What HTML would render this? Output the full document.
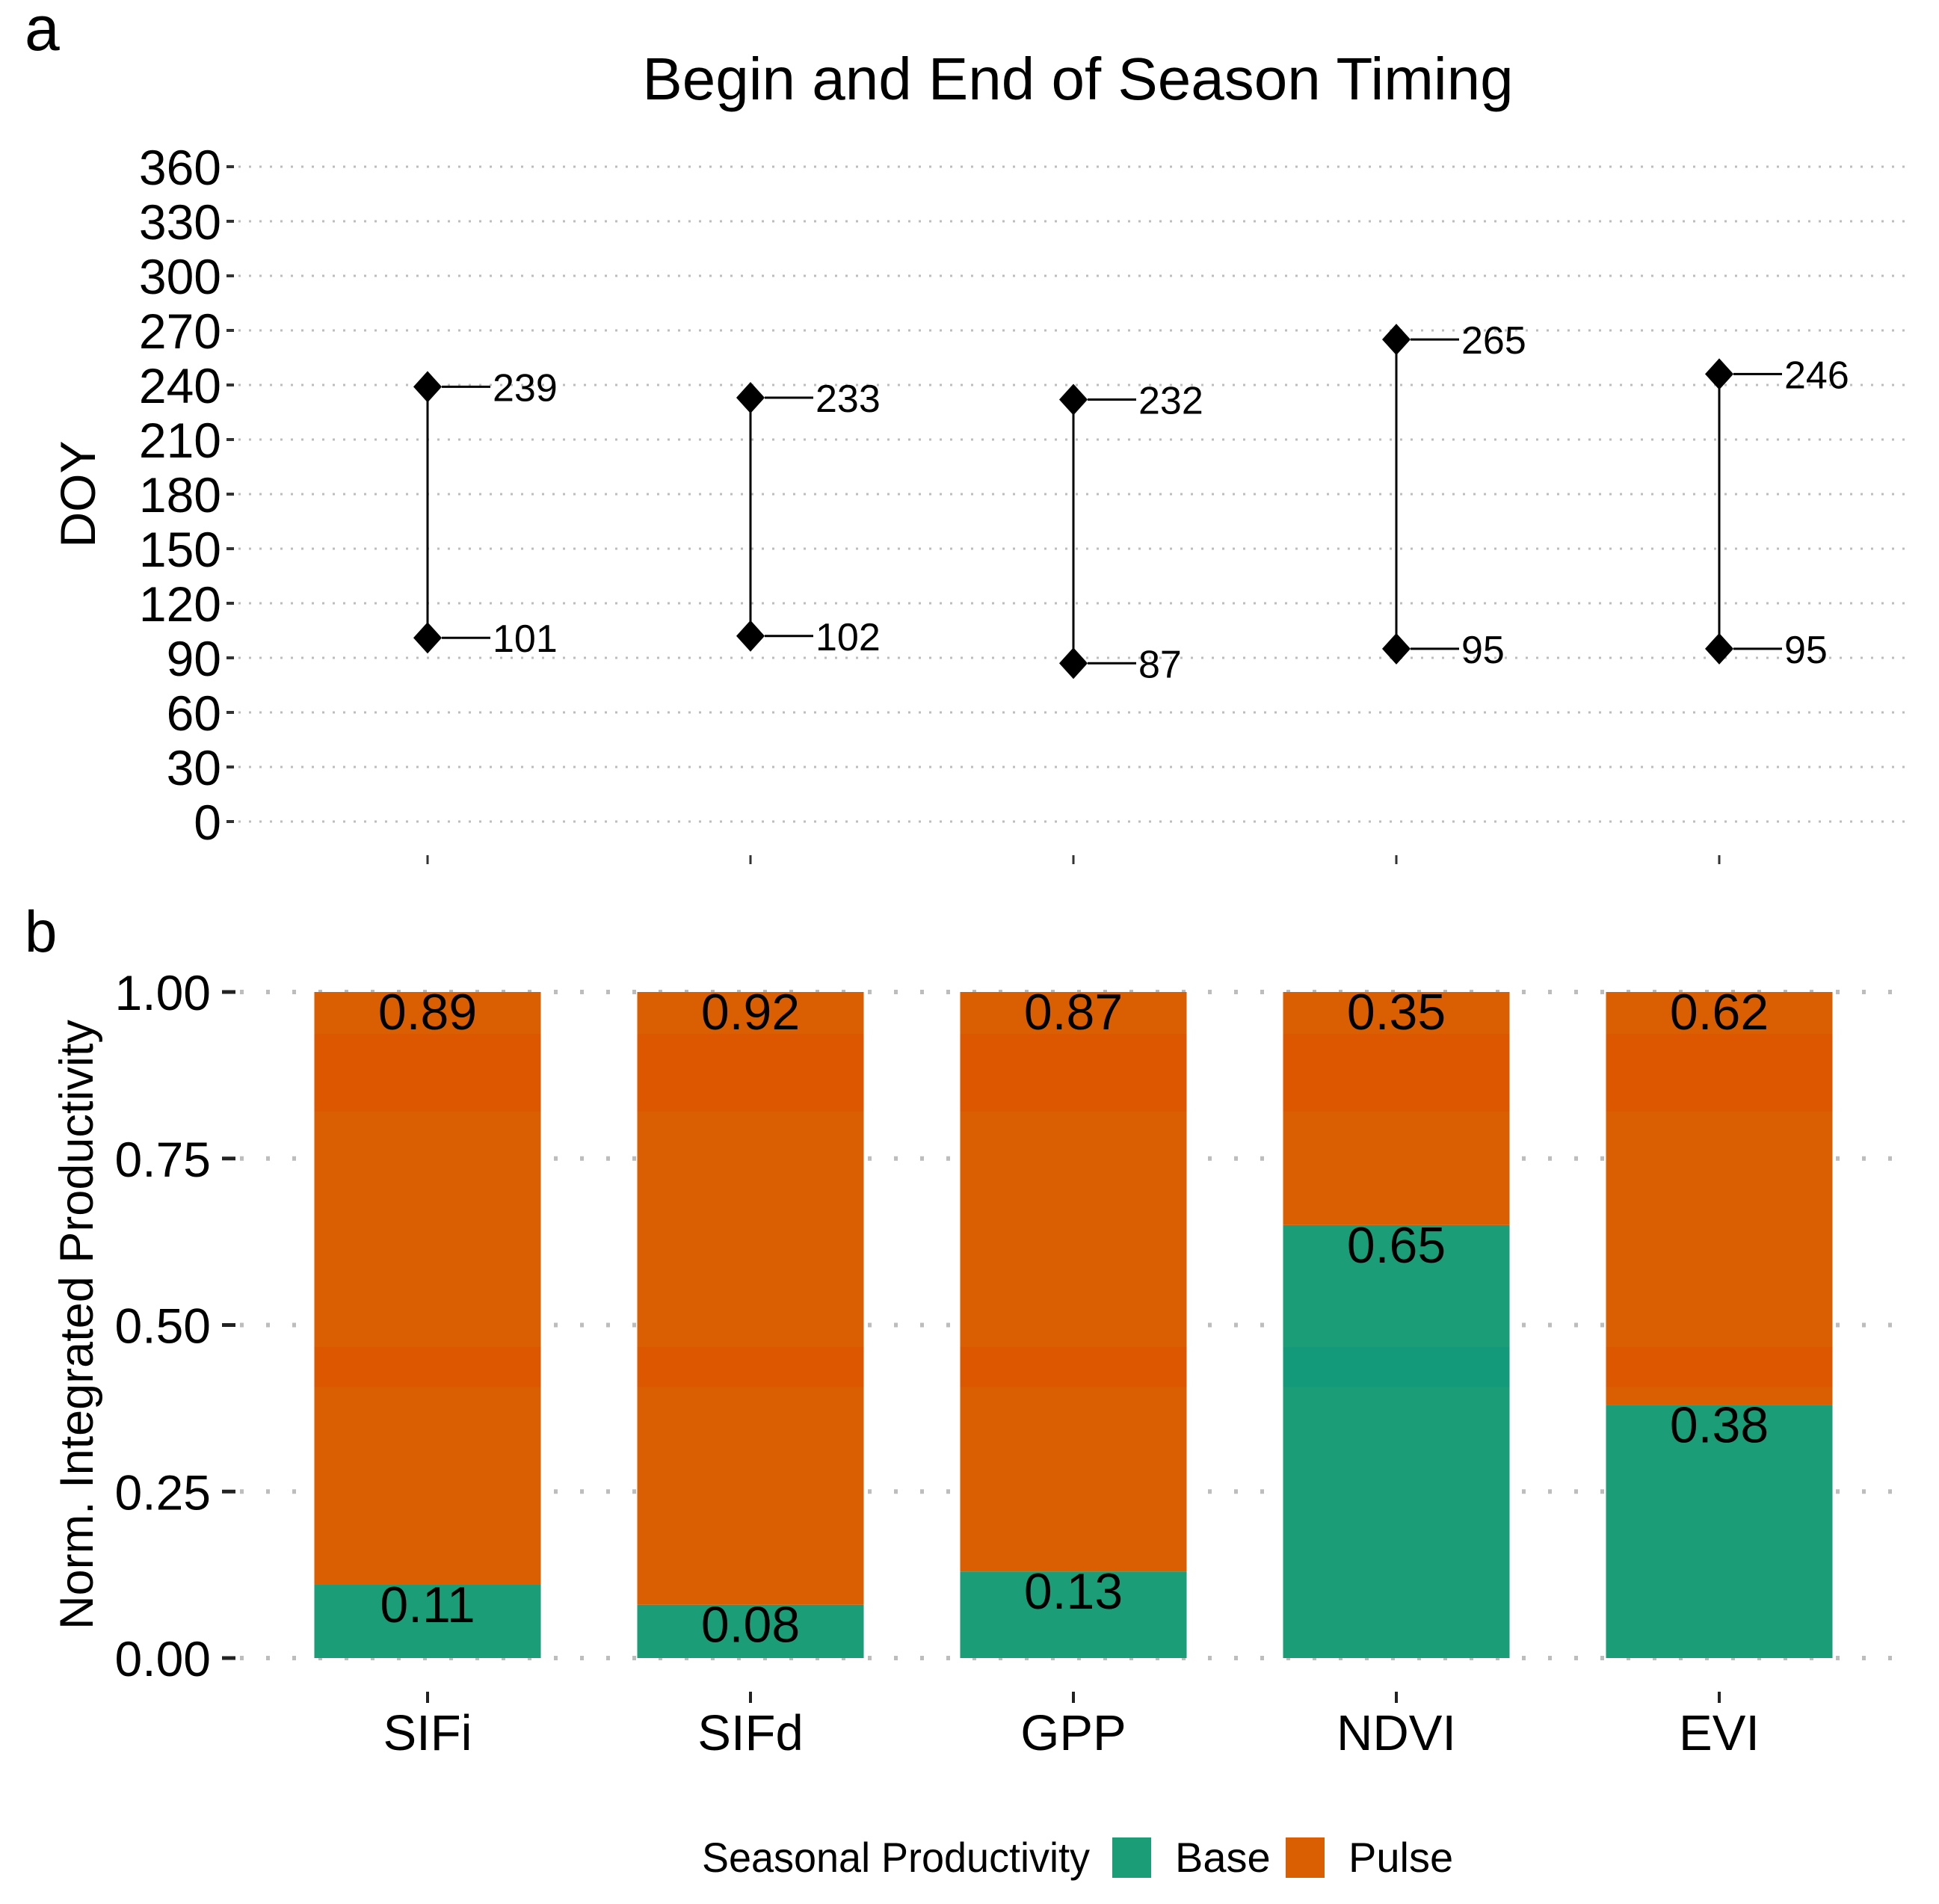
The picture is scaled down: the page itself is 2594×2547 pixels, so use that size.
<!DOCTYPE html>
<html><head><meta charset="utf-8"><style>html,body{margin:0;padding:0;background:#fff}svg{display:block}text{font-family:"Liberation Sans",Arial,sans-serif;fill:#000}</style></head>
<body>
<svg id="chart" width="2594" height="2547" viewBox="0 0 2594 2547" xmlns="http://www.w3.org/2000/svg">
<g id="pa"></g>
<g id="pb"></g>
</svg>
<script>
const categories = ["SIFi","SIFd","GPP","NDVI","EVI"];
const seasonBegin = [101,102,87,95,95];
const seasonEnd = [239,233,232,265,246];
const doyTicks = [0,30,60,90,120,150,180,210,240,270,300,330,360];
const baseShare = [0.11,0.08,0.13,0.65,0.38];
const pulseShare = [0.89,0.92,0.87,0.35,0.62];
const propTicks = [0,0.25,0.5,0.75,1.0];
const propTickLabels = ["0.00","0.25","0.50","0.75","1.00"];

const NS="http://www.w3.org/2000/svg";
function mk(parent,tag,attrs,txt){const e=document.createElementNS(NS,tag);for(const k in attrs)e.setAttribute(k,attrs[k]);if(txt!==undefined)e.textContent=txt;parent.appendChild(e);return e;}
const xCat = i => 572 + i*432;
const yA = v => 1099 - v*(876/360);
const yB = v => 2218 - v*891;

const pa=document.getElementById('pa');
const pb=document.getElementById('pb');

// Panel a
let t=mk(pa,'text',{x:33,y:67,'font-size':84},'a');


t=mk(pa,'text',{x:1442,y:133,'font-size':80,'text-anchor':'middle'},'Begin and End of Season Timing');


t=mk(pa,'text',{x:0,y:0,'font-size':66,'text-anchor':'middle',transform:'translate(127,661) rotate(-90)'},'DOY');


doyTicks.forEach(v=>{
  const y=yA(v);
  const g=mk(pa,'line',{x1:319,x2:2555,y1:y,y2:y,stroke:'#bdbdbd','stroke-width':3,'stroke-dasharray':'3,11'});
  
  
  const tk=mk(pa,'line',{x1:303,x2:313,y1:y,y2:y,stroke:'#333','stroke-width':4});
  
  
  const l=mk(pa,'text',{x:296,y:y+24,'font-size':66,'text-anchor':'end'},String(v));
  
  
});
categories.forEach((c,i)=>{
  const x=xCat(i);
  const tk=mk(pa,'line',{x1:x,x2:x,y1:1144,y2:1156,stroke:'#333','stroke-width':3});
  
  
  const yb=yA(seasonBegin[i]), ye=yA(seasonEnd[i]);
  const ln=mk(pa,'line',{x1:x,x2:x,y1:yb,y2:ye,stroke:'#000','stroke-width':3});
  
  
  [[seasonBegin[i],'begin'],[seasonEnd[i],'end']].forEach(([v,k])=>{
    const y=yA(v);
    const d=mk(pa,'polygon',{points:`${x},${y-21} ${x+19},${y} ${x},${y+21} ${x-19},${y}`,fill:'#000'});
    
    
    const seg=mk(pa,'line',{x1:x+19,x2:x+84,y1:y,y2:y,stroke:'#000','stroke-width':3});
    
    
    const lab=mk(pa,'text',{x:x+87,y:y+19,'font-size':52},String(v));
    
    
  });
});

// Panel b
t=mk(pb,'text',{x:33,y:1273,'font-size':78},'b');


t=mk(pb,'text',{x:0,y:0,'font-size':63,'text-anchor':'middle',transform:'translate(124,1772) rotate(-90)'},'Norm. Integrated Productivity');


propTicks.forEach((v,j)=>{
  const y=yB(v);
  const g=mk(pb,'line',{x1:321,x2:2555,y1:y,y2:y,stroke:'#bdbdbd','stroke-width':6,'stroke-dasharray':'5,30'});
  
  
  const tk=mk(pb,'line',{x1:297,x2:315,y1:y,y2:y,stroke:'#222','stroke-width':5});
  
  
  const l=mk(pb,'text',{x:282,y:y+24,'font-size':66,'text-anchor':'end'},propTickLabels[j]);
  
  
});
const bw=303;
function band(x,lo,hi,segLo,segHi,col){
  const a=Math.max(lo,segLo), b=Math.min(hi,segHi);
  if(b>a){const r=mk(pb,'rect',{x:x-bw/2,y:yB(b),width:bw,height:yB(a)-yB(b),fill:col});
    
    }
}
categories.forEach((c,i)=>{
  const x=xCat(i), b=baseShare[i], p=pulseShare[i];
  const rb=mk(pb,'rect',{x:x-bw/2,y:yB(b),width:bw,height:yB(0)-yB(b),fill:'#1b9e77'});
  
  
  const rp=mk(pb,'rect',{x:x-bw/2,y:yB(b+p),width:bw,height:yB(b)-yB(b+p),fill:'#d95f02'});
  
  
  band(x,0,b,0.407,0.467,'#139a7a');
  band(x,b,b+p,0.407,0.467,'#dd5600');
  band(x,b,b+p,0.821,0.937,'#dd5600');
  const lp=mk(pb,'text',{x:x,y:yB(b+p)+50,'font-size':68,'text-anchor':'middle'},p.toFixed(2));
  
  
  const lb=mk(pb,'text',{x:x,y:yB(b)+50,'font-size':68,'text-anchor':'middle'},b.toFixed(2));
  
  
  const tk=mk(pb,'line',{x1:x,x2:x,y1:2263,y2:2278,stroke:'#222','stroke-width':4});
  
  
  const xl=mk(pb,'text',{x:x,y:2341,'font-size':67,'text-anchor':'middle'},c);
  
  
});

// Legend
const lg=mk(pb,'g',{});


t=mk(lg,'text',{x:939,y:2504,'font-size':56,textLength:519,lengthAdjust:'spacingAndGlyphs'},'Seasonal Productivity');


let r=mk(lg,'rect',{x:1488,y:2458,width:52,height:54,fill:'#1b9e77'});


t=mk(lg,'text',{x:1572,y:2504,'font-size':56},'Base');


r=mk(lg,'rect',{x:1720,y:2458,width:52,height:54,fill:'#d95f02'});


t=mk(lg,'text',{x:1804,y:2504,'font-size':56},'Pulse');


</script>
</body></html>
